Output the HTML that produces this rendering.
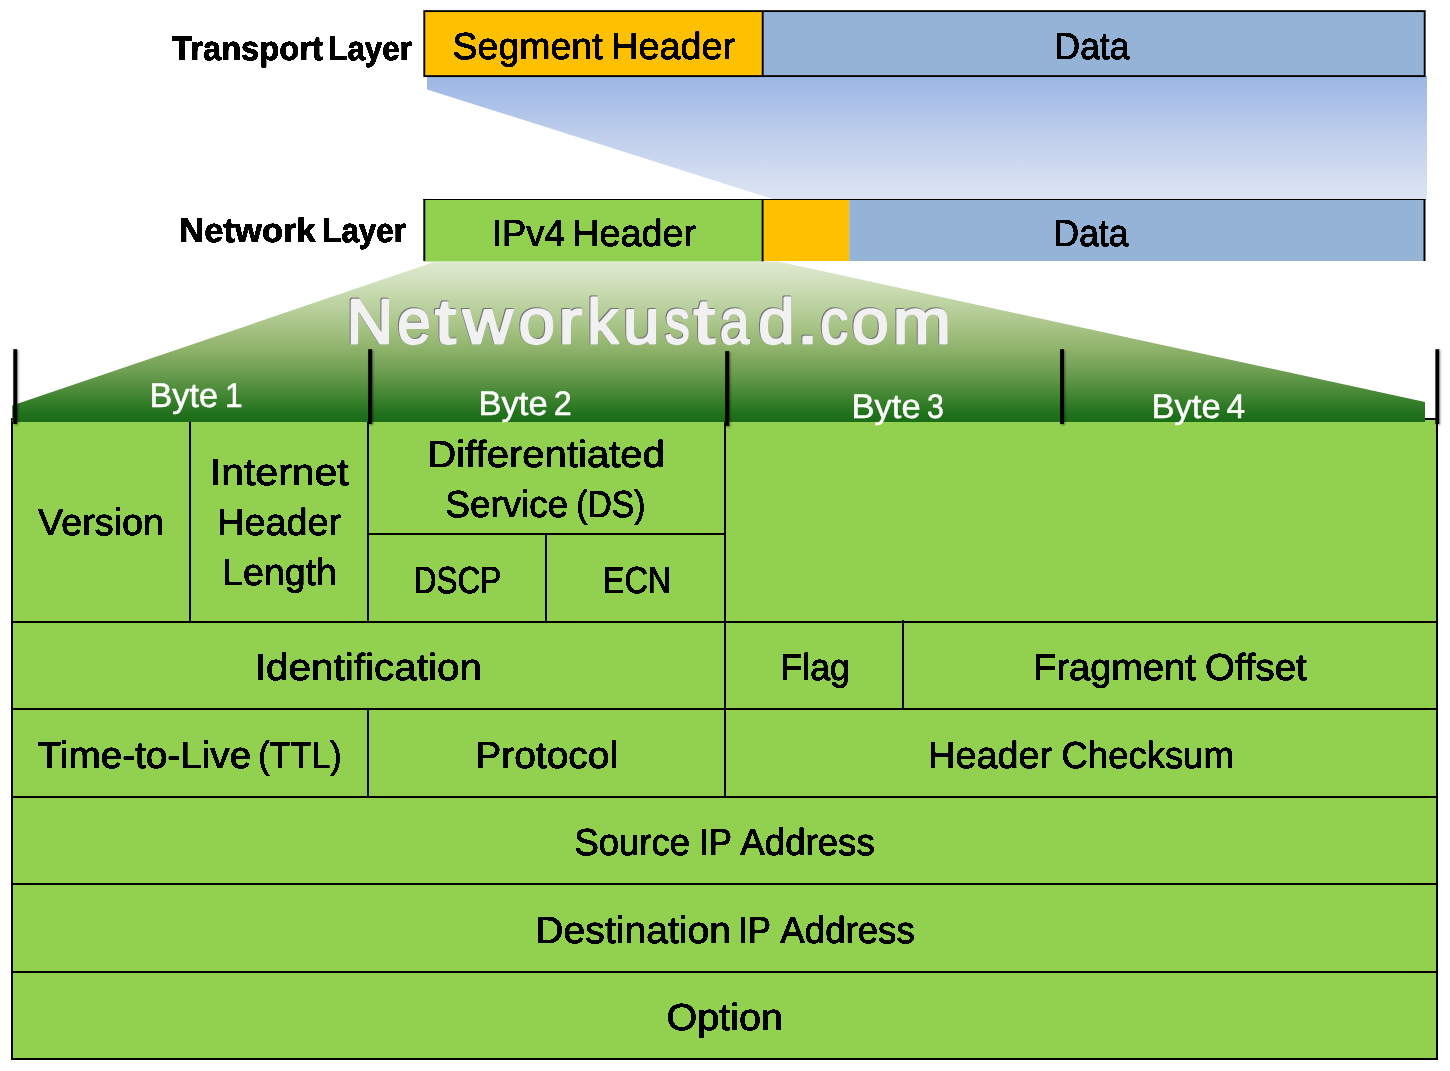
<!DOCTYPE html>
<html lang="en">
<head>
<meta charset="utf-8">
<title>IPv4 Header - Networkustad.com</title>
<style>
html,body{margin:0;padding:0;background:#fff;}
body{width:1450px;height:1071px;overflow:hidden;font-family:"Liberation Sans", sans-serif;}
svg{display:block;position:absolute;left:0;top:0;font-family:"Liberation Sans", sans-serif;will-change:transform;}
text{white-space:pre;stroke-linejoin:round;}
</style>
</head>
<body>
<svg width="1450" height="1071" viewBox="0 0 1450 1071" text-rendering="geometricPrecision">
<defs>
<linearGradient id="gBlue" x1="0" y1="0" x2="0" y2="1">
<stop offset="0" stop-color="#9BB6E4"/>
<stop offset="0.5" stop-color="#C0CFEC"/>
<stop offset="1" stop-color="#DEE5F3"/>
</linearGradient>
<linearGradient id="gGreen" x1="0" y1="0" x2="0" y2="1">
<stop offset="0" stop-color="#DEEAD0"/>
<stop offset="0.1" stop-color="#D3E2C0"/>
<stop offset="0.24" stop-color="#C0D5A6"/>
<stop offset="0.39" stop-color="#AAC589"/>
<stop offset="0.54" stop-color="#90B36C"/>
<stop offset="0.69" stop-color="#6C9D50"/>
<stop offset="0.845" stop-color="#3F8430"/>
<stop offset="0.955" stop-color="#1F701B"/>
<stop offset="1" stop-color="#1B6C16"/>
</linearGradient>
<filter id="tickShadow" x="-300%" y="-10%" width="700%" height="120%">
<feGaussianBlur in="SourceAlpha" stdDeviation="1"/><feOffset dx="0.9" dy="1.2" result="b"/>
<feComponentTransfer in="b" result="s"><feFuncA type="linear" slope="0.45"/></feComponentTransfer>
<feMerge><feMergeNode in="s"/><feMergeNode in="SourceGraphic"/></feMerge></filter>
<filter id="crisp" x="-2%" y="-30%" width="104%" height="160%" color-interpolation-filters="sRGB">
<feComponentTransfer><feFuncA type="linear" slope="5" intercept="-1.4"/></feComponentTransfer></filter>
<filter id="wmFx" x="-2%" y="-20%" width="104%" height="150%" color-interpolation-filters="sRGB">
<feGaussianBlur in="SourceAlpha" stdDeviation="0.7" result="hb"/>
<feFlood flood-color="#3c4a2c" flood-opacity="0.55"/><feComposite in2="hb" operator="in" result="halo"/>
<feOffset in="SourceAlpha" dx="0.9" dy="0.9"/><feGaussianBlur stdDeviation="0.35" result="ob"/>
<feComposite in="SourceAlpha" in2="ob" operator="out" result="edge"/>
<feFlood flood-color="#4a4a4a" flood-opacity="0.75"/><feComposite in2="edge" operator="in" result="inner"/>
<feMerge><feMergeNode in="halo"/><feMergeNode in="SourceGraphic"/><feMergeNode in="inner"/></feMerge></filter>
</defs>
<rect x="0" y="0" width="1450" height="1071" fill="#fff"/>
<polygon points="427,76 1427,76 1427,199.4 774,199.4 427,89.4" fill="url(#gBlue)"/>
<g id="transport-row">
<rect x="424.3" y="11.1" width="338.4" height="65" fill="#FFC000"/>
<rect x="762.7" y="11.1" width="662" height="65" fill="#95B3D7"/>
<rect x="424.3" y="11.1" width="1000.4" height="65" fill="none" stroke="#000" stroke-width="1.9"/>
<line x1="762.7" y1="11.1" x2="762.7" y2="76.1" stroke="#000" stroke-width="1.9"/>
</g>
<g id="network-row">
<rect x="424.3" y="199" width="338.2" height="62.6" fill="#92D050"/>
<rect x="762.5" y="199" width="86.7" height="62" fill="#FFC000"/>
<rect x="849.2" y="199" width="575.3" height="62" fill="#95B3D7"/>
<line x1="423.3" y1="199.45" x2="1425.5" y2="199.45" stroke="#000" stroke-width="1.1"/>
<line x1="424.3" y1="198.9" x2="424.3" y2="261" stroke="#000" stroke-width="2"/>
<line x1="762.6" y1="199" x2="762.6" y2="261.8" stroke="#000" stroke-width="1.9"/>
<line x1="1424.5" y1="199" x2="1424.5" y2="261" stroke="#000" stroke-width="2"/>
</g>
<g id="ipv4-table">
<rect x="12" y="419" width="1425" height="640" fill="#92D050"/>
<g stroke="#000" stroke-width="2" fill="none" stroke-linecap="butt">
<rect x="12" y="419" width="1425" height="640"/>
<line x1="12" y1="622" x2="1437" y2="622"/>
<line x1="12" y1="709" x2="1437" y2="709"/>
<line x1="12" y1="797" x2="1437" y2="797"/>
<line x1="12" y1="884" x2="1437" y2="884"/>
<line x1="12" y1="972" x2="1437" y2="972"/>
<line x1="190" y1="419" x2="190" y2="622"/>
<line x1="368" y1="419" x2="368" y2="622"/>
<line x1="546" y1="534" x2="546" y2="622"/>
<line x1="368" y1="534" x2="725" y2="534"/>
<line x1="725" y1="419" x2="725" y2="797"/>
<line x1="903" y1="620" x2="903" y2="709"/>
<line x1="368" y1="709" x2="368" y2="797"/>
</g>
</g>
<polygon points="435.4,261.6 778.3,261.6 1425,402 1425,422 12.2,422 12.2,405.6" fill="url(#gGreen)"/>
<g id="ticks" fill="#000" filter="url(#tickShadow)">
<rect x="13.3" y="349.2" width="3.9" height="74.8"/>
<rect x="368.2" y="349.2" width="3.9" height="74.8"/>
<rect x="725.2" y="351.1" width="4.0" height="74.9"/>
<rect x="1060.1" y="349.2" width="3.9" height="74.8"/>
<rect x="1435.4" y="349.2" width="3.8" height="74.8"/>
</g>
<text id="watermark" y="342.70" font-size="63.5" fill="#f1f1f1" stroke="#f1f1f1" stroke-width="3.0" filter="url(#wmFx)"><tspan x="346.02" textLength="46.69" lengthAdjust="spacingAndGlyphs">N</tspan><tspan x="396.72" textLength="33.52" lengthAdjust="spacingAndGlyphs">e</tspan><tspan x="434.63" textLength="20.91" lengthAdjust="spacingAndGlyphs">t</tspan><tspan x="462.49" textLength="49.84" lengthAdjust="spacingAndGlyphs">w</tspan><tspan x="517.93" textLength="36.64" lengthAdjust="spacingAndGlyphs">o</tspan><tspan x="558.03" textLength="23.85" lengthAdjust="spacingAndGlyphs">r</tspan><tspan x="586.80" textLength="31.29" lengthAdjust="spacingAndGlyphs">k</tspan><tspan x="622.59" textLength="36.57" lengthAdjust="spacingAndGlyphs">u</tspan><tspan x="664.24" textLength="25.22" lengthAdjust="spacingAndGlyphs">s</tspan><tspan x="693.11" textLength="21.48" lengthAdjust="spacingAndGlyphs">t</tspan><tspan x="719.30" textLength="29.71" lengthAdjust="spacingAndGlyphs">a</tspan><tspan x="757.77" textLength="36.49" lengthAdjust="spacingAndGlyphs">d</tspan><tspan x="796.13" textLength="22.20" lengthAdjust="spacingAndGlyphs">.</tspan><tspan x="819.73" textLength="28.14" lengthAdjust="spacingAndGlyphs">c</tspan><tspan x="851.17" textLength="37.12" lengthAdjust="spacingAndGlyphs">o</tspan><tspan x="892.16" textLength="58.33" lengthAdjust="spacingAndGlyphs">m</tspan></text>
<g id="labels">
<text y="59.65" font-size="33.87" font-weight="bold" fill="#000" stroke="#000" stroke-width="0.7" filter="url(#crisp)"><tspan x="172.12" textLength="150.71" lengthAdjust="spacingAndGlyphs">Transport</tspan> <tspan x="328.24" textLength="83.63" lengthAdjust="spacingAndGlyphs">Layer</tspan></text>
<text y="241.65" font-size="33.87" font-weight="bold" fill="#000" stroke="#000" stroke-width="0.7" filter="url(#crisp)"><tspan x="179.36" textLength="136.34" lengthAdjust="spacingAndGlyphs">Network</tspan> <tspan x="322.24" textLength="83.63" lengthAdjust="spacingAndGlyphs">Layer</tspan></text>
<text y="58.65" font-size="37.5" fill="#000" stroke="#000" stroke-width="0.7" filter="url(#crisp)"><tspan x="452.62" textLength="150.00" lengthAdjust="spacingAndGlyphs">Segment</tspan> <tspan x="611.27" textLength="123.92" lengthAdjust="spacingAndGlyphs">Header</tspan></text>
<text y="58.65" font-size="37.5" fill="#000" stroke="#000" stroke-width="0.7" filter="url(#crisp)"><tspan x="1054.57" textLength="74.82" lengthAdjust="spacingAndGlyphs">Data</tspan></text>
<text y="245.65" font-size="37.5" fill="#000" stroke="#000" stroke-width="0.7" filter="url(#crisp)"><tspan x="492.02" textLength="72.53" lengthAdjust="spacingAndGlyphs">IPv4</tspan> <tspan x="572.27" textLength="123.92" lengthAdjust="spacingAndGlyphs">Header</tspan></text>
<text y="245.65" font-size="37.5" fill="#000" stroke="#000" stroke-width="0.7" filter="url(#crisp)"><tspan x="1053.57" textLength="74.82" lengthAdjust="spacingAndGlyphs">Data</tspan></text>
<text y="406.75" font-size="34.16" fill="#fff" stroke="#fff" stroke-width="0.5"><tspan x="149.52" textLength="68.50" lengthAdjust="spacingAndGlyphs">Byte</tspan> <tspan x="224.99" textLength="17.67" lengthAdjust="spacingAndGlyphs">1</tspan></text>
<text y="414.75" font-size="34.16" fill="#fff" stroke="#fff" stroke-width="0.5"><tspan x="478.55" textLength="69.13" lengthAdjust="spacingAndGlyphs">Byte</tspan> <tspan x="553.81" textLength="17.97" lengthAdjust="spacingAndGlyphs">2</tspan></text>
<text y="417.75" font-size="34.16" fill="#fff" stroke="#fff" stroke-width="0.5"><tspan x="851.55" textLength="69.13" lengthAdjust="spacingAndGlyphs">Byte</tspan> <tspan x="927.00" textLength="16.87" lengthAdjust="spacingAndGlyphs">3</tspan></text>
<text y="417.75" font-size="34.16" fill="#fff" stroke="#fff" stroke-width="0.5"><tspan x="1151.55" textLength="69.13" lengthAdjust="spacingAndGlyphs">Byte</tspan> <tspan x="1226.44" textLength="18.62" lengthAdjust="spacingAndGlyphs">4</tspan></text>
<text y="534.65" font-size="37.5" fill="#000" stroke="#000" stroke-width="0.7" filter="url(#crisp)"><tspan x="38.11" textLength="125.97" lengthAdjust="spacingAndGlyphs">Version</tspan></text>
<text y="484.65" font-size="37.5" fill="#000" stroke="#000" stroke-width="0.7" filter="url(#crisp)"><tspan x="209.83" textLength="138.91" lengthAdjust="spacingAndGlyphs">Internet</tspan></text>
<text y="534.65" font-size="37.5" fill="#000" stroke="#000" stroke-width="0.7" filter="url(#crisp)"><tspan x="217.27" textLength="123.92" lengthAdjust="spacingAndGlyphs">Header</tspan></text>
<text y="584.65" font-size="37.5" fill="#000" stroke="#000" stroke-width="0.7" filter="url(#crisp)"><tspan x="222.28" textLength="114.51" lengthAdjust="spacingAndGlyphs">Length</tspan></text>
<text y="466.65" font-size="37.5" fill="#000" stroke="#000" stroke-width="0.7" filter="url(#crisp)"><tspan x="427.30" textLength="237.64" lengthAdjust="spacingAndGlyphs">Differentiated</tspan></text>
<text y="516.65" font-size="37.5" fill="#000" stroke="#000" stroke-width="0.7" filter="url(#crisp)"><tspan x="445.46" textLength="122.65" lengthAdjust="spacingAndGlyphs">Service</tspan> <tspan x="576.23" textLength="69.33" lengthAdjust="spacingAndGlyphs">(DS)</tspan></text>
<text y="592.65" font-size="37.5" fill="#000" stroke="#000" stroke-width="0.7" filter="url(#crisp)"><tspan x="413.86" textLength="87.47" lengthAdjust="spacingAndGlyphs">DSCP</tspan></text>
<text y="592.65" font-size="37.5" fill="#000" stroke="#000" stroke-width="0.7" filter="url(#crisp)"><tspan x="602.83" textLength="68.24" lengthAdjust="spacingAndGlyphs">ECN</tspan></text>
<text y="679.65" font-size="37.5" fill="#000" stroke="#000" stroke-width="0.7" filter="url(#crisp)"><tspan x="254.84" textLength="227.05" lengthAdjust="spacingAndGlyphs">Identification</tspan></text>
<text y="679.65" font-size="37.5" fill="#000" stroke="#000" stroke-width="0.7" filter="url(#crisp)"><tspan x="780.54" textLength="69.30" lengthAdjust="spacingAndGlyphs">Flag</tspan></text>
<text y="679.65" font-size="37.5" fill="#000" stroke="#000" stroke-width="0.7" filter="url(#crisp)"><tspan x="1033.24" textLength="162.46" lengthAdjust="spacingAndGlyphs">Fragment</tspan> <tspan x="1205.09" textLength="101.55" lengthAdjust="spacingAndGlyphs">Offset</tspan></text>
<text y="767.65" font-size="37.5" fill="#000" stroke="#000" stroke-width="0.7" filter="url(#crisp)"><tspan x="37.62" textLength="213.56" lengthAdjust="spacingAndGlyphs">Time-to-Live</tspan> <tspan x="258.27" textLength="83.36" lengthAdjust="spacingAndGlyphs">(TTL)</tspan></text>
<text y="767.65" font-size="37.5" fill="#000" stroke="#000" stroke-width="0.7" filter="url(#crisp)"><tspan x="475.30" textLength="142.74" lengthAdjust="spacingAndGlyphs">Protocol</tspan></text>
<text y="767.65" font-size="37.5" fill="#000" stroke="#000" stroke-width="0.7" filter="url(#crisp)"><tspan x="928.27" textLength="123.92" lengthAdjust="spacingAndGlyphs">Header</tspan> <tspan x="1061.55" textLength="172.21" lengthAdjust="spacingAndGlyphs">Checksum</tspan></text>
<text y="854.65" font-size="37.5" fill="#000" stroke="#000" stroke-width="0.7" filter="url(#crisp)"><tspan x="574.54" textLength="115.45" lengthAdjust="spacingAndGlyphs">Source</tspan> <tspan x="699.36" textLength="31.87" lengthAdjust="spacingAndGlyphs">IP</tspan> <tspan x="740.32" textLength="134.46" lengthAdjust="spacingAndGlyphs">Address</tspan></text>
<text y="942.65" font-size="37.5" fill="#000" stroke="#000" stroke-width="0.7" filter="url(#crisp)"><tspan x="535.36" textLength="195.64" lengthAdjust="spacingAndGlyphs">Destination</tspan> <tspan x="738.36" textLength="31.87" lengthAdjust="spacingAndGlyphs">IP</tspan> <tspan x="780.32" textLength="134.46" lengthAdjust="spacingAndGlyphs">Address</tspan></text>
<text y="1029.65" font-size="37.5" fill="#000" stroke="#000" stroke-width="0.7" filter="url(#crisp)"><tspan x="666.57" textLength="116.45" lengthAdjust="spacingAndGlyphs">Option</tspan></text>
</g>
</svg>
</body>
</html>
